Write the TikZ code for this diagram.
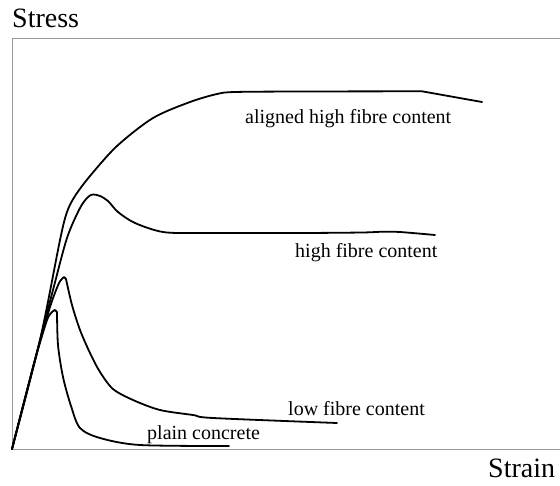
\documentclass[tikz,border=0pt]{standalone}
\usepackage{fontspec}
\setmainfont{Liberation Serif}
\begin{document}
\begin{tikzpicture}[x=1pt,y=-1pt,
  curve/.style={line width=1.8pt,black,line join=round,line cap=round},
  frame/.style={line width=0.9pt,gray!80},
  lbl/.style={anchor=base west,inner sep=0pt,font=\fontsize{20}{24}\selectfont},
  axlbl/.style={anchor=base west,inner sep=0pt,font=\fontsize{28}{32}\selectfont}]
\useasboundingbox (0,0) rectangle (560,485);
\coordinate (o) at (12,449);
\coordinate (tr) at (560,38);
\coordinate (br) at (560,449);
\draw[frame] (tr) -- (12,38) -- (o) -- (br);
% aligned high fibre
\draw[curve] plot[smooth,tension=0.5] coordinates {(12,449) (40,340) (60,240) (67,212) (75,196) (90,176) (117,146) (153,118) (190,102) (217,94) (235,92) (300,91.5) (422,91.3)} -- (482,102);
% high fibre
\draw[curve] plot[smooth,tension=0.5] coordinates {(12,449) (40,340) (53,290) (67,238) (80,208) (88,197) (93,194.5) (100,196) (108,201) (118,212) (135,223) (163,232) (200,233) (300,233) (362,232.5) (383,231.7) (400,232) (435,235)};
% low fibre
\draw[curve] plot[smooth,tension=0.4] coordinates {(12,449) (35,360) (50,307) (59,283) (64,277)} -- (66,279) plot[smooth,tension=0.5] coordinates {(66,279) (72,305) (80,330) (90,353) (100,372) (113,389) (133,400) (160,410) (193,415) (213,418) (337,423)};
% plain concrete
\draw[curve] plot[smooth,tension=0.4] coordinates {(12,449) (35,360) (47,320) (52,312) (55,310)} -- (57,312) plot[smooth,tension=0.5] coordinates {(57,312) (58,345) (63,377) (71,406) (80,428) (100,438) (140,445) (229,446)};
\node[axlbl] (stress) at (12,27) {Stress};
\node[axlbl] (strain) at (488,477) {Strain};
\node[lbl] (ahf) at (245,123) {aligned high fibre content};
\node[lbl] (hf) at (295,257) {high fibre content};
\node[lbl] (lf) at (288,415) {low fibre content};
\node[lbl] (pc) at (147,439) {plain concrete};
\end{tikzpicture}
\end{document}
